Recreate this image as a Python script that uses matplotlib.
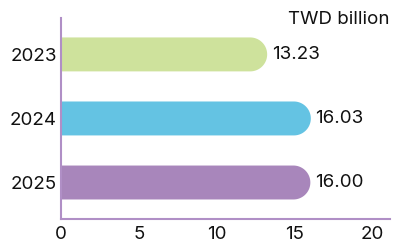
import matplotlib
matplotlib.use("Agg")
import matplotlib.pyplot as plt
import numpy as np
from matplotlib.patches import Polygon

years = ["2023", "2024", "2025"]
values = [13.23, 16.03, 16.00]
labels = ["13.23", "16.03", "16.00"]
colors = ["#cee29c", "#64c3e3", "#a886bb"]
xticks = [0, 5, 10, 15, 20]

plt.rcParams["font.family"] = ["Inter", "DejaVu Sans"]

fig = plt.figure(figsize=(3.93, 2.42), dpi=100)
ax = fig.add_axes([0.155, 0.095, 0.837, 0.831])
ax.set_xlim(0, 21.1)
ax.set_ylim(2.57, -0.57)

bar_h = 0.53
hh = bar_h / 2
# half bar height in x-data units, so the right end is a true semicircle on screen
px_per_x = ax.transData.transform((1, 0))[0] - ax.transData.transform((0, 0))[0]
px_per_y = abs(ax.transData.transform((0, 1))[1] - ax.transData.transform((0, 0))[1])
rx = hh * px_per_y / px_per_x

t = np.linspace(-np.pi / 2, np.pi / 2, 60)
for i, (v, c, lab) in enumerate(zip(values, colors, labels)):
    arc = np.column_stack([v - rx + rx * np.cos(t), i + hh * np.sin(t)])
    pts = np.vstack([[0, i - hh], arc, [0, i + hh]])
    ax.add_patch(Polygon(pts, closed=True, facecolor=c, edgecolor="none"))
    ax.text(v + 0.3, i, lab, va="center", ha="left", fontsize=13.5, color="#111111")

ax.set_yticks(range(len(years)))
ax.set_yticklabels(years)
ax.set_xticks(xticks)
ax.tick_params(length=0, labelsize=13.5, colors="#111111")
ax.tick_params(axis="y", pad=3)
ax.tick_params(axis="x", pad=5)

for side in ["top", "right"]:
    ax.spines[side].set_visible(False)
for side in ["left", "bottom"]:
    ax.spines[side].set_color("#b08fc6")
    ax.spines[side].set_linewidth(1.5)

fig.text(0.99, 0.92, "TWD billion", ha="right", va="center", fontsize=13.5, color="#111111")

fig.savefig("out.png", dpi=100)
